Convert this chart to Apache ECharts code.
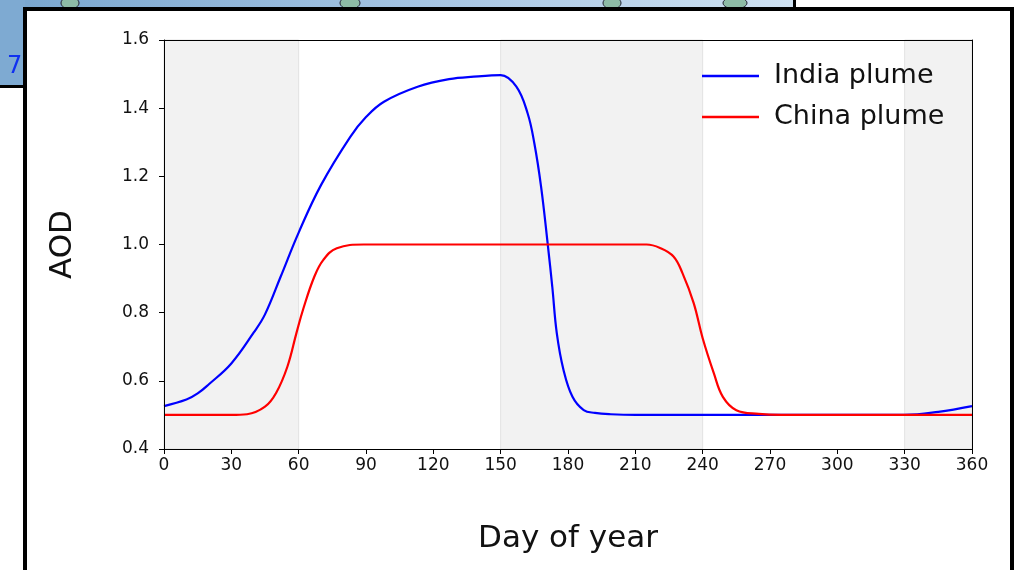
<!DOCTYPE html>
<html>
<head>
<meta charset="utf-8">
<script src="https://cdn.jsdelivr.net/npm/echarts@6/dist/echarts.min.js"></script>
<style>
  html, body { margin: 0; padding: 0; background: #fff; }
  #chart { width: 1017px; height: 570px; }
</style>
</head>
<body>
<div id="chart"></div>
<script>
// 横轴刻度
var dayTicks = [0, 30, 60, 90, 120, 150, 180, 210, 240, 270, 300, 330, 360];
var aodTicks = [0.4, 0.6, 0.8, 1.0, 1.2, 1.4, 1.6];

// India plume 读数 (天, AOD)
var indiaDays = [0, 10, 15, 20, 30, 40, 45, 52, 60, 70, 83, 90, 98, 113, 127, 140, 146, 150,
    157, 162, 165, 168, 171, 173, 175, 178, 182, 187, 192, 199, 210, 270, 330, 345, 360];
var indiaAOD = [0.526, 0.545, 0.563, 0.59, 0.651, 0.742, 0.795, 0.906, 1.035, 1.175, 1.316, 1.374, 1.419, 1.463, 1.485, 1.493, 1.496, 1.497,
    1.463, 1.385, 1.297, 1.17, 0.999, 0.876, 0.74, 0.632, 0.553, 0.514, 0.506, 0.502, 0.5, 0.5, 0.5, 0.509, 0.526];

// China plume 读数
var chinaDays = [0, 15, 30, 37, 45, 50, 55, 59, 62, 67, 71, 77, 89, 150, 215, 221, 227, 231, 236, 240, 245, 249, 255, 265, 275, 320, 360];
var chinaAOD = [0.5, 0.5, 0.5, 0.502, 0.524, 0.565, 0.642, 0.74, 0.81, 0.906, 0.955, 0.989, 1.0, 1.0, 1.0, 0.99, 0.965, 0.916, 0.828, 0.725, 0.622, 0.553, 0.514, 0.503, 0.5, 0.5, 0.5];

// 灰色背景区间
var shadeBands = [[0, 60], [150, 240], [330, 360]];

function zipPts(xs, ys) {
    var arr = [];
    for (var i = 0; i < xs.length; i++) arr.push([xs[i], ys[i]]);
    return arr;
}

var chart = echarts.init(document.getElementById('chart'));
var font = 'DejaVu Sans';
var frameAxis = {
    axisLine: { show: true, onZero: false, lineStyle: { color: '#000', width: 1 } },
    axisTick: { show: false }, axisLabel: { show: false }, splitLine: { show: false }, z: 5
};

var option = {
    animation: false,
    backgroundColor: '#fff',
    textStyle: { fontFamily: font },
    grid: { left: 164, right: 45, top: 40, bottom: 121 },
    legend: {
        orient: 'vertical',
        left: 697, top: 56,
        icon: 'rect',
        itemWidth: 57, itemHeight: 2.5, itemGap: 11,
        data: ['India plume', 'China plume'],
        textStyle: { fontSize: 27, color: '#111', lineHeight: 30, padding: [0, 0, 0, 10], fontFamily: font }
    },
    xAxis: [{
        type: 'value', min: 0, max: 360, interval: 30,
        name: 'Day of year', nameLocation: 'middle', nameGap: 74,
        nameTextStyle: { fontSize: 31, color: '#111', fontFamily: font },
        axisLine: { show: true, onZero: false, lineStyle: { color: '#000', width: 1 } },
        axisTick: { show: true, length: 5, lineStyle: { color: '#000' } },
        axisLabel: { fontSize: 17, color: '#111', margin: 8,
            formatter: function (v) { return dayTicks.indexOf(v) >= 0 ? String(v) : ''; } },
        splitLine: { show: false },
        z: 5
    }, Object.assign({ type: 'value', min: 0, max: 360, position: 'top' }, frameAxis)],
    yAxis: [{
        type: 'value', min: 0.4, max: 1.6, interval: 0.2,
        name: 'AOD', nameLocation: 'middle', nameGap: 86, nameRotate: 90,
        nameTextStyle: { fontSize: 31, color: '#111', fontFamily: font },
        axisLine: { show: true, lineStyle: { color: '#000', width: 1 } },
        axisTick: { show: true, length: 5, lineStyle: { color: '#000' } },
        axisLabel: { fontSize: 17, color: '#111', margin: 15,
            formatter: function (v) { return v.toFixed(1); } },
        splitLine: { show: false },
        z: 5
    }, Object.assign({ type: 'value', min: 0.4, max: 1.6, position: 'right' }, frameAxis)],
    graphic: [
        // 上方被裁切的地图条
        { type: 'rect', left: 0, top: 0, shape: { width: 795, height: 9 },
          style: { fill: new echarts.graphic.LinearGradient(0, 0, 1, 0, [
              { offset: 0, color: '#78a5ce' }, { offset: 0.5, color: '#a3c3e2' }, { offset: 1, color: '#cfe1f1' }]) }, z: -1 },
        { type: 'rect', left: 0, top: 0, shape: { width: 25, height: 86 },
          style: { fill: '#7eaad2' }, z: -1 },
        { type: 'rect', left: 0, top: 85, shape: { width: 25, height: 3 }, style: { fill: '#000' }, z: -1 },
        { type: 'rect', left: 793, top: 0, shape: { width: 3, height: 9 }, style: { fill: '#000' }, z: -1 },
        { type: 'ellipse', shape: { cx: 70, cy: 3, rx: 9, ry: 6 }, style: { fill: '#8dbba6', stroke: '#223', lineWidth: 1 }, z: -1 },
        { type: 'ellipse', shape: { cx: 350, cy: 3, rx: 10, ry: 6 }, style: { fill: '#8dbba6', stroke: '#223', lineWidth: 1 }, z: -1 },
        { type: 'ellipse', shape: { cx: 612, cy: 3, rx: 9, ry: 6 }, style: { fill: '#8dbba6', stroke: '#223', lineWidth: 1 }, z: -1 },
        { type: 'ellipse', shape: { cx: 735, cy: 3, rx: 12, ry: 6 }, style: { fill: '#8dbba6', stroke: '#223', lineWidth: 1 }, z: -1 },
        { type: 'text', left: 7, top: 55, style: { text: '7', fontSize: 24, fill: '#1030f0', fontFamily: font }, z: 0 },
        // 外框
        { type: 'rect', shape: { x: 25, y: 9, width: 987, height: 600 },
          style: { fill: null, stroke: '#000', lineWidth: 4 }, z: 10 }
    ],
    series: [
        {
            name: 'India plume', type: 'line',
            data: zipPts(indiaDays, indiaAOD),
            showSymbol: false, symbol: 'none',
            smooth: 0.4,
            lineStyle: { color: '#0000ff', width: 2.2 },
            itemStyle: { color: '#0000ff' },
            markArea: {
                silent: true,
                itemStyle: { color: '#f2f2f2', borderColor: '#e2e2e2', borderWidth: 1 },
                data: shadeBands.map(function (b) { return [{ xAxis: b[0] }, { xAxis: b[1] }]; })
            },
            z: 2
        },
        {
            name: 'China plume', type: 'line',
            data: zipPts(chinaDays, chinaAOD),
            showSymbol: false, symbol: 'none',
            smooth: 0.4,
            lineStyle: { color: '#ff0000', width: 2.2 },
            itemStyle: { color: '#ff0000' },
            z: 3
        }
    ]
};
chart.setOption(option);
</script>
</body>
</html>
